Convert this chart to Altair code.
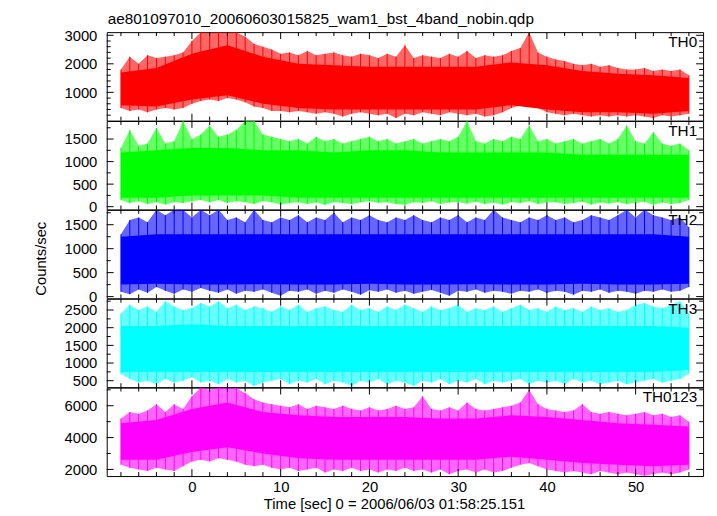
import altair as alt
import pandas as pd

FONT = "Liberation Sans"
TITLE = "ae801097010_20060603015825_wam1_bst_4band_nobin.qdp"
XTITLE = "Time [sec] 0 = 2006/06/03 01:58:25.151"
YTITLE = "Counts/sec"

# time grid of the read-off envelope (seconds)
T = list(range(-8, 57))
# time grid of the dense core band
TC = list(range(-8, 57, 4))

X_DOMAIN = [-9.6, 57.6]
X_MAJOR = [0, 10, 20, 30, 40, 50]
X_MINOR = [-8, -6, -4, -2, 2, 4, 6, 8, 12, 14, 16, 18, 22, 24, 26, 28, 32, 34, 36, 38,
           42, 44, 46, 48, 52, 54, 56]

# ---------------- TH0 ----------------
TH0_HI = [1800, 2250, 2000, 2300, 2200, 2250, 2300, 2400,
          2800, 3110, 3110, 3110, 3110, 3110, 2950, 2700, 2600, 2500,
          2350, 2400, 2300, 2450, 2300, 2350, 2400, 2300, 2250, 2350,
          2300, 2200, 2350, 2250, 2650, 2200, 2300, 2250, 2200, 2350,
          2250, 2450, 2200, 2300, 2250, 2300, 2450, 2550, 3110, 2400,
          2250, 2150, 2100, 2000, 1950, 2000, 1900, 1950, 1850, 1800,
          1800, 1850, 1750, 1800, 1750, 1800, 1600]
TH0_LO = [450, 350, 400, 300, 400, 450, 400, 450,
          600, 700, 750, 700, 800, 750, 650, 500, 450, 350,
          350, 300, 350, 300, 250, 300, 250, 150, 250, 300,
          250, 200, 250, 100, 250, 200, 300, 250, 200, 300,
          250, 200, 250, 150, 200, 300, 450, 550, 650, 450,
          300, 250, 200, 250, 200, 150, 200, 150, 200, 150,
          200, 150, 100, 200, 150, 200, 250]
TH0_CHI = [1700, 1850, 2350, 2650, 2250, 2000, 1950, 1900, 1900, 1900, 1900, 2050, 1950,
           1750, 1650, 1600, 1500]
TH0_CLO = [550, 500, 750, 900, 600, 450, 400, 400, 400, 400, 400, 550, 400, 300, 300, 250, 350]

# ---------------- TH1 ----------------
TH1_HI = [1300, 1700, 1350, 1400, 1750, 1400, 1450, 1900, 1500, 1600,
          1800, 1550, 1600, 1700, 1900, 1900, 1600, 1550, 1500, 1450,
          1500, 1400, 1550, 1450, 1500, 1400, 1450, 1500, 1550, 1450,
          1500, 1400, 1450, 1500, 1400, 1450, 1500, 1450, 1550, 1900,
          1450, 1400, 1500, 1450, 1550, 1500, 1800, 1450, 1500, 1400,
          1450, 1500, 1400, 1450, 1500, 1400, 1500, 1800, 1450, 1400,
          1650, 1400, 1350, 1400, 1250]
TH1_LO = [150, 80, 120, 60, 100, 50, 100, 80, 120, 150,
          100, 150, 80, 120, 100, 60, 120, 100, 50, 80,
          100, 60, 90, 40, 100, 80, 60, 100, 120, 80,
          100, 60, 40, 100, 80, 120, 60, 90, 100, 70,
          110, 60, 90, 50, 100, 80, 120, 60, 90, 100,
          60, 80, 110, 50, 90, 70, 100, 60, 80, 110,
          40, 90, 60, 80, 150]
TH1_CHI = [1200, 1250, 1300, 1300, 1250, 1250, 1200, 1250, 1250, 1200, 1200, 1200, 1200,
           1150, 1150, 1150, 1150]
TH1_CLO = [200, 200, 250, 250, 250, 200, 200, 200, 200, 200, 200, 200, 200, 200, 200, 200, 200]

# ---------------- TH2 ----------------
TH2_HI = [1300, 1600, 1650, 1550, 1810, 1700, 1810, 1810, 1650, 1810,
          1700, 1810, 1600, 1650, 1550, 1810, 1600, 1550, 1650, 1600,
          1700, 1550, 1650, 1600, 1750, 1550, 1650, 1600, 1700, 1600,
          1550, 1650, 1600, 1700, 1600, 1550, 1650, 1600, 1700, 1550,
          1650, 1600, 1810, 1650, 1600, 1550, 1650, 1600, 1700, 1600,
          1650, 1550, 1600, 1700, 1650, 1600, 1700, 1810, 1650, 1810,
          1700, 1650, 1600, 1650, 1450]
TH2_LO = [100, 50, 150, 80, 200, 120, 60, 150, 100, 180,
          120, 80, 150, 60, 120, 100, 150, 80, 20, 120,
          100, 150, 60, 120, 80, 150, 100, 40, 130, 100,
          150, 80, 120, 60, 100, 140, 80, 20, 120, 100,
          150, 80, 120, 100, 60, 120, 100, 150, 80, 120,
          100, 40, 120, 100, 150, 80, 120, 100, 60, 120,
          100, 150, 100, 120, 200]
TH2_CHI = [1250, 1300, 1300, 1300, 1300, 1300, 1300, 1300, 1300, 1300, 1300, 1300, 1300,
           1300, 1300, 1300, 1250]
TH2_CLO = [250, 270, 250, 250, 260, 250, 250, 270, 250, 250, 260, 250, 250, 270, 250, 250, 270]

# ---------------- TH3 ----------------
TH3_HI = [2400, 2650, 2500, 2600, 2450, 2750, 2600, 2500, 2550, 2700,
          2600, 2750, 2550, 2650, 2500, 2600, 2550, 2450, 2600, 2500,
          2650, 2450, 2550, 2600, 2500, 2450, 2650, 2500, 2550, 2450,
          2600, 2500, 2650, 2550, 2450, 2600, 2500, 2550, 2650, 2450,
          2550, 2500, 2600, 2450, 2550, 2650, 2500, 2550, 2450, 2600,
          2500, 2550, 2450, 2600, 2500, 2550, 2450, 2500, 2650, 2700,
          2600, 2550, 2650, 2750, 2400]
TH3_LO = [700, 550, 450, 500, 400, 550, 450, 500, 600, 450,
          500, 400, 550, 450, 500, 350, 450, 500, 550, 400,
          500, 450, 550, 400, 500, 450, 350, 500, 450, 550,
          400, 500, 450, 350, 500, 450, 550, 400, 500, 450,
          550, 400, 500, 450, 500, 550, 400, 500, 450, 500,
          400, 550, 450, 500, 400, 450, 500, 400, 450, 500,
          550, 450, 500, 550, 700]
TH3_CHI = [2050, 2050, 2100, 2050, 2050, 2050, 2050, 2050, 2050, 2050, 2050, 2050, 2050,
           2050, 2050, 2050, 2000]
TH3_CLO = [750, 750, 750, 750, 750, 750, 750, 750, 750, 750, 750, 750, 750, 750, 750, 750, 800]

# ---------------- TH0123 ----------------
TH0123_HI = [5200, 5600, 5500, 5700, 6100, 5600, 6100, 5800, 6600, 7140,
             7000, 7140, 7140, 7100, 6800, 6400, 6200, 6100, 6000, 5900,
             6100, 5800, 6000, 5900, 5800, 6000, 5800, 5700, 5900, 5700,
             5800, 6000, 5800, 5900, 6600, 5800, 5700, 5900, 5700, 6200,
             5800, 5700, 5800, 5900, 6000, 6200, 7000, 6100, 5800, 5700,
             5600, 5700, 6100, 5600, 5500, 5600, 5500, 5400, 5500, 5600,
             5400, 5500, 5300, 5400, 5000]
TH0123_LO = [2300, 2100, 2000, 1900, 2100, 2000, 1900, 2200, 2500, 2600,
             2500, 2700, 2600, 2500, 2300, 2200, 2300, 2100, 2000, 2100,
             1900, 2000, 2100, 1800, 2000, 1900, 2100, 1900, 2000, 1800,
             2000, 1900, 2100, 1900, 2000, 1800, 2000, 1700, 1900, 2000,
             1800, 2000, 1800, 1900, 2100, 2300, 2400, 2200, 2000, 1900,
             1800, 1900, 1800, 1700, 1900, 1800, 1700, 1800, 1700, 1600,
             1700, 1800, 1700, 1800, 2000]
TH0123_CHI = [4900, 5100, 5800, 6200, 5600, 5400, 5300, 5300, 5300, 5200, 5200, 5400, 5300,
              5100, 4900, 4800, 4700]
TH0123_CLO = [2600, 2600, 3100, 3400, 3000, 2700, 2600, 2600, 2600, 2600, 2600, 2800, 2600,
              2400, 2300, 2200, 2300]

W = 604
H = 89.6
MAJ = 7
MIN = 4
FS = 15


def panel(name, color, hi, lo, chi, clo, ydom, ymajor, yminor, bottom=False, ytitle=None, top=False):
    xs = alt.Scale(domain=X_DOMAIN, nice=False, zero=False)
    ys = alt.Scale(domain=ydom, nice=False, zero=False)
    ext = pd.DataFrame({"t": T, "hi": hi, "lo": lo})
    core = pd.DataFrame({"t": TC, "hi": chi, "lo": clo})

    if bottom:
        xaxis = alt.Axis(values=X_MAJOR, title=XTITLE, ticks=False, domain=False, grid=False,
                         labelPadding=4, labelFlush=False, labelFontSize=FS, labelFont=FONT,
                         titleFont=FONT, titleFontSize=FS, titleFontWeight="normal",
                         titlePadding=2, titleX=291, format="d", labelColor="black",
                         titleColor="black")
    else:
        xaxis = None
    ykw = dict(values=ymajor, ticks=False, domain=False, grid=False, labelPadding=10,
               labelFontSize=FS, labelFont=FONT, format="d", labelOverlap=False,
               labelColor="black")
    if ytitle:
        ykw.update(title=ytitle, titleFont=FONT, titleFontSize=FS, titleFontWeight="normal",
                   titlePadding=16, titleColor="black", titleY=49)
    else:
        ykw.update(title=None)
    yaxis = alt.Axis(**ykw)

    def X(f):
        return alt.X(f, scale=xs, axis=xaxis)

    def Y(f):
        return alt.Y(f, scale=ys, axis=yaxis)

    layers = []
    layers.append(alt.Chart(ext).mark_area(color=color, opacity=0.6, clip=True).encode(
        x=X("t:Q"), y=Y("hi:Q"), y2="lo:Q"))
    layers.append(alt.Chart(ext).mark_rule(color=color, opacity=1, strokeWidth=1, clip=True).encode(
        x=X("t:Q"), y=Y("hi:Q"), y2="lo:Q"))
    layers.append(alt.Chart(core).mark_area(color=color, opacity=1, clip=True).encode(
        x=X("t:Q"), y=Y("hi:Q"), y2="lo:Q"))

    # tick marks on all four sides, pointing inward
    ymaj = pd.DataFrame({"v": ymajor})
    ymin = pd.DataFrame({"v": yminor})
    xmaj = pd.DataFrame({"v": X_MAJOR})
    xmin = pd.DataFrame({"v": X_MINOR})
    for df, L in ((ymaj, MAJ), (ymin, MIN)):
        layers.append(alt.Chart(df).mark_rule(color="black", strokeWidth=1).encode(
            y=Y("v:Q"), x=alt.value(0), x2=alt.value(L)))
        layers.append(alt.Chart(df).mark_rule(color="black", strokeWidth=1).encode(
            y=Y("v:Q"), x=alt.value(W - L), x2=alt.value(W)))
    for df, L in ((xmaj, MAJ), (xmin, MIN)):
        layers.append(alt.Chart(df).mark_rule(color="black", strokeWidth=1).encode(
            x=X("v:Q"), y=alt.value(0), y2=alt.value(L)))
        layers.append(alt.Chart(df).mark_rule(color="black", strokeWidth=1).encode(
            x=X("v:Q"), y=alt.value(H - L), y2=alt.value(H)))

    lab = pd.DataFrame({"label": [name]})
    layers.append(alt.Chart(lab).mark_text(align="right", baseline="top", font=FONT, fontSize=15.5,
                                           color="black").encode(
        x=alt.value(W - 6), y=alt.value(3), text="label:N"))
    if top:
        tt = pd.DataFrame({"label": [TITLE]})
        layers.append(alt.Chart(tt).mark_text(align="left", baseline="alphabetic", font=FONT,
                                              fontSize=15.5, color="black").encode(
            x=alt.value(1), y=alt.value(-8), text="label:N"))
    return alt.layer(*layers).properties(width=W, height=H)


p0 = panel("TH0", "#ff0000", TH0_HI, TH0_LO, TH0_CHI, TH0_CLO, [10, 3110],
           [1000, 2000, 3000], [200, 400, 600, 800, 1200, 1400, 1600, 1800, 2200, 2400, 2600, 2800],
           top=True)
p1 = panel("TH1", "#00ff00", TH1_HI, TH1_LO, TH1_CHI, TH1_CLO, [-62, 1900],
           [0, 500, 1000, 1500], [250, 750, 1250, 1750])
p2 = panel("TH2", "#0000ff", TH2_HI, TH2_LO, TH2_CHI, TH2_CLO, [-36, 1810],
           [0, 500, 1000, 1500], [250, 750, 1250, 1750], ytitle=YTITLE)
p3 = panel("TH3", "#00ffff", TH3_HI, TH3_LO, TH3_CHI, TH3_CLO, [317, 2820],
           [500, 1000, 1500, 2000, 2500], [750, 1250, 1750, 2250, 2750])
p4 = panel("TH0123", "#ff00ff", TH0123_HI, TH0123_LO, TH0123_CHI, TH0123_CLO, [1584, 7140],
           [2000, 4000, 6000], [3000, 5000, 7000], bottom=True)

chart = alt.vconcat(p0, p1, p2, p3, p4, spacing=0, bounds="flush").properties(
    padding={"left": 25, "top": 0, "right": 5, "bottom": 30}
).configure_view(stroke="black", strokeWidth=1)

chart.save("out.html", embed_options={"renderer": "svg", "actions": False})
